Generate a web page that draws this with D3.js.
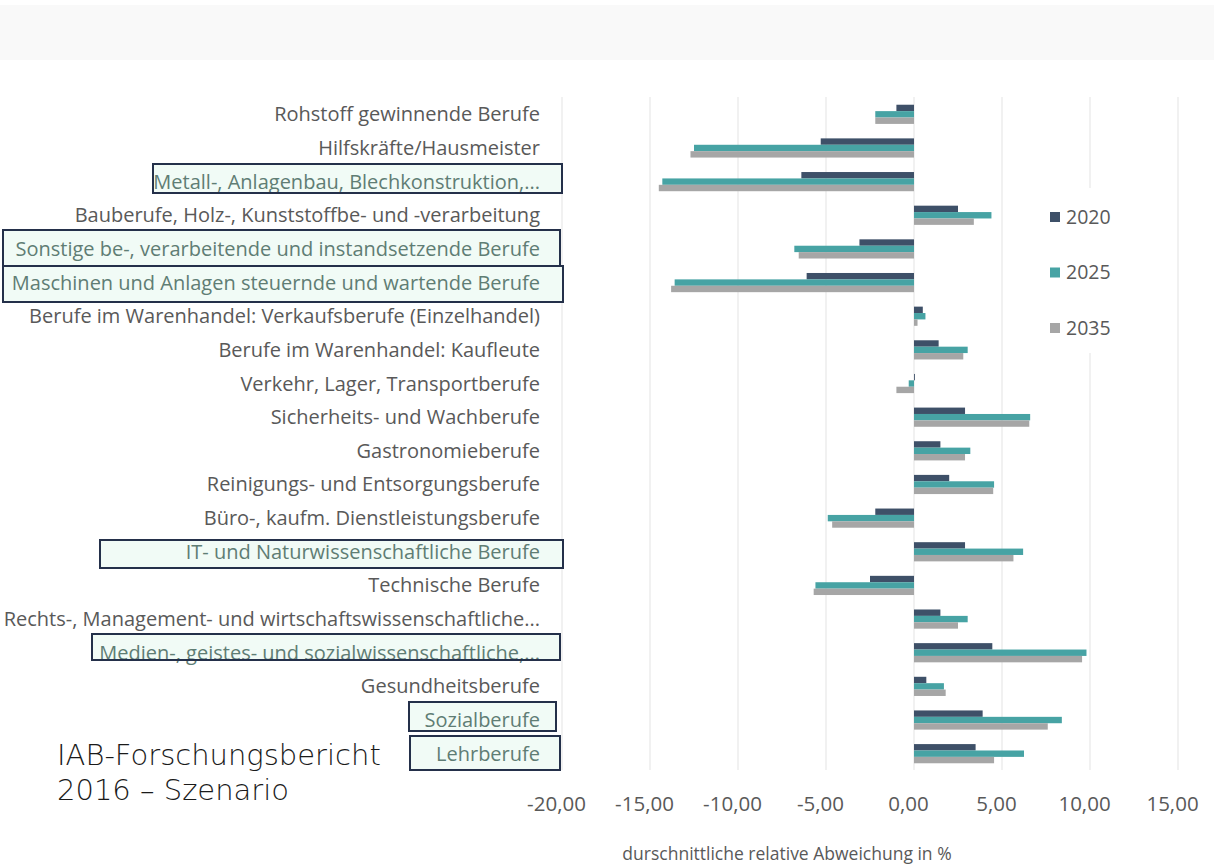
<!DOCTYPE html>
<html>
<head>
<meta charset="utf-8">
<script src="https://cdn.jsdelivr.net/npm/d3@7"></script>
<style>
  body { margin: 0; background: #fff; }
  text { font-family: "Open Sans", Lato, sans-serif; }
</style>
</head>
<body>
<svg id="vis" width="1214" height="866"></svg>
<script>
// Berufsgruppen, von oben nach unten
const categories = [
  "Rohstoff gewinnende Berufe",
  "Hilfskräfte/Hausmeister",
  "Metall-, Anlagenbau, Blechkonstruktion,...",
  "Bauberufe, Holz-, Kunststoffbe- und -verarbeitung",
  "Sonstige be-, verarbeitende und instandsetzende Berufe",
  "Maschinen und Anlagen steuernde und wartende Berufe",
  "Berufe im Warenhandel: Verkaufsberufe (Einzelhandel)",
  "Berufe im Warenhandel: Kaufleute",
  "Verkehr, Lager, Transportberufe",
  "Sicherheits- und Wachberufe",
  "Gastronomieberufe",
  "Reinigungs- und Entsorgungsberufe",
  "Büro-, kaufm. Dienstleistungsberufe",
  "IT- und Naturwissenschaftliche Berufe",
  "Technische Berufe",
  "Rechts-, Management- und wirtschaftswissenschaftliche...",
  "Medien-, geistes- und sozialwissenschaftliche,...",
  "Gesundheitsberufe",
  "Sozialberufe",
  "Lehrberufe"
];
const highlighted = [
  "Metall-, Anlagenbau, Blechkonstruktion,...",
  "Sonstige be-, verarbeitende und instandsetzende Berufe",
  "Maschinen und Anlagen steuernde und wartende Berufe",
  "IT- und Naturwissenschaftliche Berufe",
  "Medien-, geistes- und sozialwissenschaftliche,...",
  "Sozialberufe",
  "Lehrberufe"
];

const years = ["2020", "2025", "2035"];
const v2020 = [-1.0, -5.3, -6.4, 2.5, -3.1, -6.1, 0.5, 1.4, 0.05, 2.9, 1.5, 2.0, -2.2, 2.9, -2.5, 1.5, 4.45, 0.7, 3.9, 3.5];
const v2025 = [-2.2, -12.5, -14.3, 4.4, -6.8, -13.6, 0.65, 3.05, -0.3, 6.6, 3.2, 4.55, -4.9, 6.2, -5.6, 3.05, 9.8, 1.7, 8.4, 6.25];
const v2035 = [-2.2, -12.7, -14.5, 3.4, -6.55, -13.8, 0.2, 2.8, -1.0, 6.55, 2.9, 4.5, -4.65, 5.65, -5.7, 2.5, 9.55, 1.8, 7.6, 4.55];
const series = [v2020, v2025, v2035];
const colors = ["#3e5068", "#47a3a4", "#a6a6a6"];

const xTicks = [-20, -15, -10, -5, 0, 5, 10, 15];

const svg = d3.select("#vis");

// heller Streifen oben
svg.append("rect")
  .attr("x", 0).attr("y", 5).attr("width", 1214).attr("height", 55)
  .attr("fill", "#f9f9f9");

let x = d3.scaleLinear().domain([-20, 15]).range([562, 1178]);
let y = d3.scaleBand().domain(categories).range([98, 770]).paddingInner(0.43).paddingOuter(0.2);
let ySub = d3.scaleBand().domain(years).range([0, y.bandwidth()]);

// Gitterlinien
svg.append("g")
  .selectAll("line")
  .data(xTicks)
  .enter()
  .append("line")
  .attr("x1", d => x(d)).attr("x2", d => x(d))
  .attr("y1", 97).attr("y2", 770)
  .attr("stroke", "#e3e3e3")
  .attr("stroke-width", 1);

// Achse unten (nur Beschriftung)
let axis = svg.append("g")
  .attr("transform", "translate(-6,793)")
  .call(d3.axisBottom(x).tickValues(xTicks).tickSize(0)
    .tickFormat(d => d3.format(".2f")(d).replace(".", ",").replace("−", "-")));
axis.select(".domain").remove();
axis.selectAll("text")
  .attr("font-size", 20.5)
  .attr("fill", "#595959")
  .style("font-family", "'Open Sans', sans-serif");

svg.append("text")
  .attr("x", 787).attr("y", 860)
  .attr("text-anchor", "middle")
  .attr("font-size", 17.5)
  .attr("fill", "#595959")
  .text("durschnittliche relative Abweichung in %");

// Balken
years.forEach((yr, k) => {
  svg.append("g")
    .attr("fill", colors[k])
    .selectAll("rect")
    .data(categories)
    .enter()
    .append("rect")
    .attr("x", (d, i) => x(Math.min(0, series[k][i])))
    .attr("y", d => y(d) + ySub(yr))
    .attr("width", (d, i) => Math.abs(x(series[k][i]) - x(0)))
    .attr("height", ySub.bandwidth());
});

// Rahmen um hervorgehobene Berufe
const boxes = [
  [153, 164, 409, 29], [3, 230, 557, 36], [3, 266, 560, 36],
  [100, 540, 463, 28], [92, 634, 468, 26], [409, 702, 147, 29], [410, 736, 150, 34]
];
svg.append("g")
  .selectAll("rect")
  .data(boxes)
  .enter()
  .append("rect")
  .attr("x", d => d[0]).attr("y", d => d[1])
  .attr("width", d => d[2]).attr("height", d => d[3])
  .attr("fill", "#f1fbf6");

// Kategorienbeschriftung
let labels = svg.append("g");
labels.selectAll("text")
  .data(categories)
  .enter()
  .append("text")
  .attr("x", 540)
  .attr("y", d => y(d) + y.bandwidth() / 2)
  .attr("dy", "0.35em")
  .attr("text-anchor", "end")
  .attr("font-size", 20)
  .attr("fill", d => highlighted.includes(d) ? "#5f7d74" : "#595959")
  .text(d => d);

svg.append("g")
  .selectAll("rect")
  .data(boxes)
  .enter()
  .append("rect")
  .attr("x", d => d[0]).attr("y", d => d[1])
  .attr("width", d => d[2]).attr("height", d => d[3])
  .attr("fill", "none")
  .attr("stroke", "#24304a")
  .attr("stroke-width", 2);

// Legende
let legend = svg.append("g");
legend.append("rect")
  .attr("x", 1040).attr("y", 188).attr("width", 95).attr("height", 165)
  .attr("fill", "#fff");
years.forEach((yr, k) => {
  let ly = 217 + k * 55.5;
  legend.append("rect")
    .attr("x", 1050).attr("y", ly - 5).attr("width", 10).attr("height", 10)
    .attr("fill", colors[k]);
  legend.append("text")
    .attr("x", 1066).attr("y", ly)
    .attr("dy", "0.35em")
    .attr("font-size", 19.5)
    .attr("fill", "#595959")
    .text(yr);
});

// Quelle
svg.append("text")
  .attr("x", 57).attr("y", 765)
  .attr("font-size", 29)
  .attr("fill", "#1a1a1a")
  .attr("font-weight", 200)
  .style("font-family", "'DejaVu Sans', sans-serif")
  .text("IAB-Forschungsbericht");
svg.append("text")
  .attr("x", 57).attr("y", 800)
  .attr("font-size", 29)
  .attr("fill", "#1a1a1a")
  .attr("font-weight", 200)
  .style("font-family", "'DejaVu Sans', sans-serif")
  .text("2016 – Szenario");
</script>
</body>
</html>
